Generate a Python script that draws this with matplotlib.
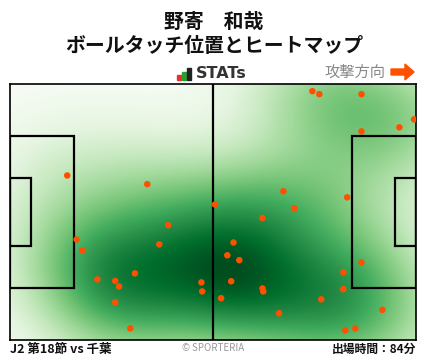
import matplotlib
matplotlib.use("Agg")
import matplotlib.pyplot as plt
from matplotlib.patches import Rectangle, FancyArrow
from matplotlib.colors import PowerNorm
import numpy as np

plt.rcParams['font.family'] = ['Noto Sans CJK JP', 'DejaVu Sans']

# --- データ ---
player_name = "野寄　和哉"
chart_title = "ボールタッチ位置とヒートマップ"
match_label = "J2 第18節 vs 千葉"
play_time = "出場時間：84分"
direction_label = "攻撃方向"

# ボールタッチ位置 (m, ピッチ 105 x 68, 左下原点)
touch_x = [78.2, 80.0, 90.9, 104.5, 100.7, 90.9, 14.8, 35.5, 70.7, 87.2,
           53.0, 73.5, 65.3, 40.9, 17.2, 57.8, 38.6, 18.7, 56.2, 59.3,
           90.9, 86.2, 32.3, 22.6, 27.2, 28.2, 49.5, 57.2, 65.3, 65.5,
           86.2, 49.7, 27.2, 54.6, 80.5, 96.3, 69.6, 31.1, 89.3, 86.7]
touch_y = [66.1, 65.3, 65.3, 58.6, 56.5, 55.4, 43.7, 41.4, 39.5, 37.9,
           36.0, 35.0, 32.4, 30.5, 26.7, 25.9, 25.4, 23.8, 22.5, 21.2,
           20.6, 18.0, 17.7, 16.1, 15.7, 14.2, 15.3, 15.6, 13.7, 12.9,
           13.5, 12.9, 10.0, 11.1, 10.8, 8.0, 7.1, 3.1, 3.1, 2.6]

pitch_len = 105.0
pitch_wid = 68.0

fig = plt.figure(figsize=(4.28, 3.59), dpi=100)
W, H = 428, 359
ax = fig.add_axes([10 / W, (H - 340) / H, 406 / W, 256 / H])

# ヒートマップ (ガウスカーネル密度)
px = np.array(touch_x)
py = np.array(touch_y)
gx = np.linspace(0, pitch_len, 211)
gy = np.linspace(0, pitch_wid, 137)
GX, GY = np.meshgrid(gx, gy)
sx, sy = 13.5, 11.0
dens = np.zeros_like(GX)
for xi, yi in zip(px, py):
    dens += np.exp(-((GX - xi) ** 2 / (2 * sx ** 2) + (GY - yi) ** 2 / (2 * sy ** 2)))
dens = dens - dens.min()
ax.imshow(dens, extent=[0, pitch_len, 0, pitch_wid], origin='lower',
          cmap='Greens', norm=PowerNorm(0.75, vmin=0, vmax=dens.max() * 1.04),
          aspect='auto', interpolation='bilinear', zorder=0)

# ピッチライン
lw = 1.6
ax.plot([pitch_len / 2, pitch_len / 2], [0, pitch_wid], color='black', lw=lw, zorder=2)
box_d, box_w = 16.5, 40.3
ga_d, ga_w = 5.5, 18.3
for x0, d in [(0, box_d), (pitch_len - box_d, box_d)]:
    ax.add_patch(Rectangle((x0, (pitch_wid - box_w) / 2), d, box_w, fill=False,
                           ec='black', lw=lw, zorder=2))
for x0, d in [(0, ga_d), (pitch_len - ga_d, ga_d)]:
    ax.add_patch(Rectangle((x0, (pitch_wid - ga_w) / 2), d, ga_w, fill=False,
                           ec='black', lw=lw, zorder=2))

ax.scatter(touch_x, touch_y, s=22, color='#ff5000', edgecolors='none', zorder=3)

ax.set_xlim(0, pitch_len)
ax.set_ylim(0, pitch_wid)
ax.set_xticks([])
ax.set_yticks([])
for sp in ax.spines.values():
    sp.set_linewidth(1.2)
    sp.set_color('black')

# タイトル
fig.text(0.5, 1 - 21 / H, player_name, ha='center', va='center',
         fontsize=14.3, fontweight='bold', color='#111111')
fig.text(0.5, 1 - 46 / H, chart_title, ha='center', va='center',
         fontsize=14.3, fontweight='bold', color='#111111')

# STATs ロゴ
for (bx, bh, c) in [(177, 5, '#e8312a'), (182, 8, '#2ca02c'), (187, 12, '#222222')]:
    fig.patches.append(Rectangle((bx / W, (H - 80) / H), 3.5 / W, bh / H,
                                 transform=fig.transFigure, color=c, figure=fig))
fig.text(196 / W, 1 - 74 / H, "STATs", ha='left', va='center',
         fontsize=11.5, fontweight='bold', color='#333333', family='DejaVu Sans')

# 攻撃方向
fig.text(385 / W, 1 - 72 / H, direction_label, ha='right', va='center',
         fontsize=11, color='#888888')
fig.patches.append(FancyArrow(391 / W, 1 - 72 / H, 14 / W, 0, width=6 / H,
                              head_width=16 / H, head_length=9 / W,
                              length_includes_head=False, color='#ff5000',
                              transform=fig.transFigure, figure=fig))

# フッター
fig.text(10 / W, 1 - 349 / H, match_label, ha='left', va='center',
         fontsize=9, fontweight='bold', color='#111111')
fig.text(213 / W, 1 - 348 / H, "© SPORTERIA", ha='center', va='center',
         fontsize=7, color='#999999')
fig.text(416 / W, 1 - 349 / H, play_time, ha='right', va='center',
         fontsize=8.5, fontweight='bold', color='#111111')

fig.savefig('out.png', dpi=100)
